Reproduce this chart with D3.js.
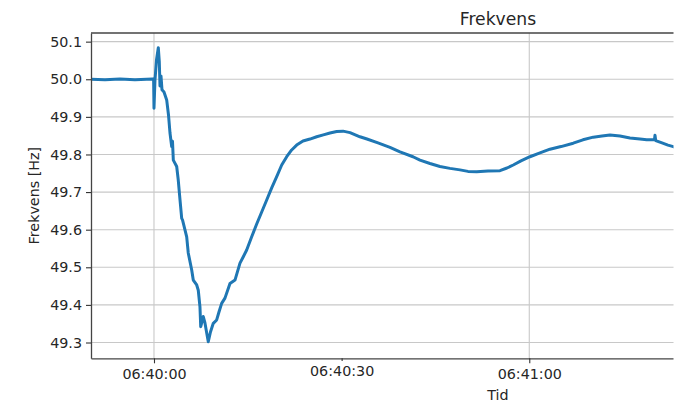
<!DOCTYPE html>
<html>
<head>
<meta charset="utf-8">
<script src="https://cdn.jsdelivr.net/npm/d3@7"></script>
<style>
  body { margin: 0; background: #fff; }
  text { font-family: "DejaVu Sans", sans-serif; fill: #262626; }
</style>
</head>
<body>
<script>
// Data: seconds after 06:40:00 and measured frequency
var seconds = [-10.07, -7.83, -5.44, -3.04, -0.24, -0.06, 0.00, 0.16, 0.40, 0.69,
  0.85, 0.96, 1.12, 1.28, 1.60, 2.03, 2.32, 2.56, 2.83, 2.96,
  3.09, 3.63, 3.88, 4.16, 4.43, 4.56, 5.23, 5.48, 6.03, 6.28,
  6.83, 7.08, 7.35, 7.47, 7.67, 7.88, 8.15, 8.43, 8.68, 9.03,
  9.48, 10.02, 10.39, 10.82, 11.35, 12.15, 12.95, 13.75, 14.28, 14.82,
  15.62, 16.42, 17.22, 18.02, 18.82, 19.62, 20.42, 21.22, 22.01, 22.81,
  23.82, 24.94, 26.01, 27.07, 28.14, 29.21, 30.22, 31.34, 32.93, 34.05,
  35.81, 37.73, 39.33, 41.41, 42.53, 44.12, 45.72, 47.32, 48.92, 50.20,
  51.59, 53.40, 55.32, 56.43, 57.44, 58.67, 60.11, 61.71, 63.31, 65.07,
  67.03, 68.58, 70.23, 71.62, 72.90, 74.50, 76.10, 77.70, 78.77, 80.02,
  80.10, 80.21, 81.22, 82.17, 83.02, 84.09];
var freqHz = [50.000, 49.999, 50.001, 49.999, 50.001, 50.001, 49.923, 49.998, 50.051, 50.084,
  50.046, 49.982, 50.009, 49.972, 49.966, 49.945, 49.905, 49.857, 49.821, 49.835,
  49.785, 49.768, 49.732, 49.679, 49.630, 49.626, 49.581, 49.538, 49.493, 49.466,
  49.453, 49.439, 49.395, 49.342, 49.355, 49.369, 49.352, 49.325, 49.302, 49.328,
  49.351, 49.360, 49.381, 49.404, 49.418, 49.457, 49.466, 49.511, 49.528, 49.546,
  49.581, 49.615, 49.647, 49.679, 49.711, 49.741, 49.772, 49.794, 49.812, 49.825,
  49.836, 49.841, 49.847, 49.852, 49.857, 49.861, 49.862, 49.858, 49.847, 49.841,
  49.831, 49.819, 49.807, 49.794, 49.785, 49.776, 49.768, 49.763, 49.759, 49.755,
  49.754, 49.756, 49.757, 49.764, 49.772, 49.783, 49.794, 49.804, 49.814, 49.821,
  49.830, 49.839, 49.846, 49.849, 49.852, 49.849, 49.844, 49.841, 49.839, 49.840,
  49.851, 49.837, 49.831, 49.825, 49.821, 49.815];

var yTicks = [49.3, 49.4, 49.5, 49.6, 49.7, 49.8, 49.9, 50.0, 50.1];
var majorTimes = ["06:40:00", "06:41:00"];
var minorTimes = ["06:40:30"];

var parseTime = d3.timeParse("%H:%M:%S");
var t0 = parseTime("06:40:00");
function offset(s) { return new Date(t0.getTime() + s * 1000); }

var data = seconds.map(function (s, i) { return {t: offset(s), v: freqHz[i]}; });

// dimensions (axes continue past the right edge of the picture)
var w = 679, h = 401;
var pLeft = 91, pRight = 905, pTop = 33, pBottom = 358.3, visibleRight = 673.5;

var x = d3.scaleTime().
domain([offset(-10.07), offset(120.07)]).
range([pLeft, pRight]);

var y = d3.scaleLinear().
domain([49.258, 50.123]).
range([pBottom, pTop]);

var svg = d3.select("body").
append("svg").
attr("width", w).
attr("height", h);

svg.append("clipPath").attr("id", "vis").
append("rect").attr("x", 0).attr("y", 0).attr("width", visibleRight).attr("height", h);
svg.append("clipPath").attr("id", "plot").
append("rect").attr("x", pLeft).attr("y", pTop).attr("width", pRight - pLeft).attr("height", pBottom - pTop);

var g = svg.append("g").attr("clip-path", "url(#vis)");

// grid
g.append("g").selectAll("line").
data(yTicks).
enter().append("line").
attr("x1", pLeft).attr("x2", pRight).
attr("y1", function (d) {return y(d);}).
attr("y2", function (d) {return y(d);}).
attr("stroke", "#c8c8c8").attr("stroke-width", 1.1);

g.append("g").selectAll("line").
data(majorTimes.map(parseTime)).
enter().append("line").
attr("x1", function (d) {return x(d);}).
attr("x2", function (d) {return x(d);}).
attr("y1", pTop).attr("y2", pBottom).
attr("stroke", "#c8c8c8").attr("stroke-width", 1.1);

// frequency line
var line = d3.line().
x(function (d) {return x(d.t);}).
y(function (d) {return y(d.v);});

g.append("path").
datum(data).
attr("clip-path", "url(#plot)").
attr("d", line).
attr("fill", "none").
attr("stroke", "#1f77b4").
attr("stroke-width", 3).
attr("stroke-linejoin", "round").
attr("stroke-linecap", "round");

// axes
var fmt = d3.timeFormat("%H:%M:%S");

var yAxis = g.append("g").
attr("transform", "translate(" + pLeft + ",0)").
call(d3.axisLeft(y).tickValues(yTicks).tickSize(5).tickSizeOuter(0).tickPadding(4).tickFormat(d3.format(".1f")));

var xMajor = g.append("g").
attr("transform", "translate(0," + pBottom + ")").
call(d3.axisBottom(x).tickValues(majorTimes.map(parseTime)).tickSize(5).tickSizeOuter(0).tickPadding(6).tickFormat(fmt));

var xMinor = g.append("g").
attr("transform", "translate(0," + pBottom + ")").
call(d3.axisBottom(x).tickValues(minorTimes.map(parseTime)).tickSize(2.6).tickSizeOuter(0).tickPadding(5).tickFormat(fmt));
xMinor.select(".domain").remove();

[yAxis, xMajor, xMinor].forEach(function (a) {
  a.selectAll("text").style("font-size", "14.3px").style("font-family", "DejaVu Sans").attr("fill", "#262626");
  a.selectAll("line").attr("stroke", "#333").attr("stroke-width", 1.1);
  a.select(".domain").attr("stroke", "#444").attr("stroke-width", 1.3);
});

// top spine
g.append("line").
attr("x1", pLeft).attr("x2", pRight).
attr("y1", pTop).attr("y2", pTop).
attr("stroke", "#444").attr("stroke-width", 1.3);

// labels
svg.append("text").
attr("x", (pLeft + pRight) / 2).
attr("y", 25).
attr("text-anchor", "middle").
style("font-size", "17.2px").
text("Frekvens");

svg.append("text").
attr("x", (pLeft + pRight) / 2).
attr("y", 399.5).
attr("text-anchor", "middle").
style("font-size", "14.3px").
text("Tid");

svg.append("text").
attr("transform", "translate(38.5," + (pTop + pBottom) / 2 + ") rotate(-90)").
attr("text-anchor", "middle").
style("font-size", "14.3px").
text("Frekvens [Hz]");
</script>
</body>
</html>
